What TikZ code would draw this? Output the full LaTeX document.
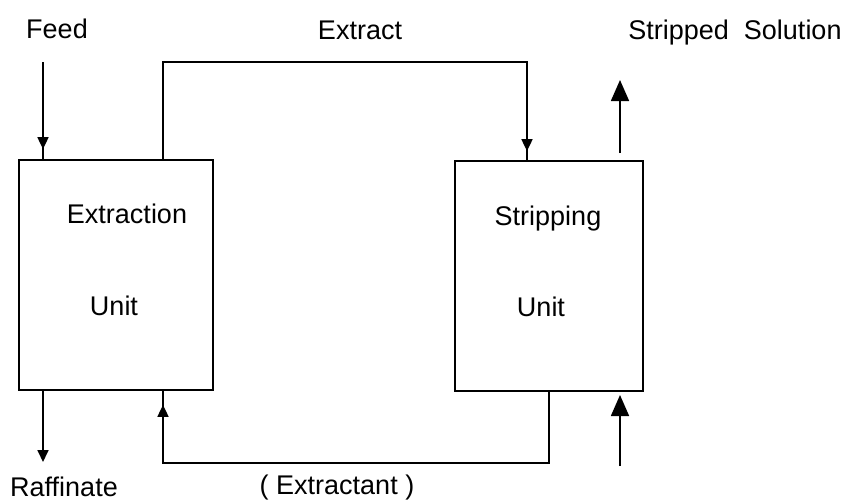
\documentclass[tikz,border=0pt]{standalone}
\usepackage{fontspec}
\setmainfont{Liberation Sans}
\usetikzlibrary{arrows.meta,decorations.markings}
\begin{document}
\begin{tikzpicture}[x=1pt,y=-1pt,
  unitbox/.style={draw, line width=1.7pt, inner sep=0pt, minimum height=230pt},
  lbl/.style={anchor=base, inner sep=0pt, font=\fontsize{27}{32}\selectfont},
  flow/.style={line width=1.7pt},
  smalltip/.style={-{Triangle[width=11pt,length=12pt]}},
  bigtip/.style={-{Triangle[width=18pt,length=21pt]}},
  tipat/.style={postaction={decorate}, decoration={markings,
      mark=at position #1 with {\arrow{Triangle[width=11pt,length=12pt]}}}}]
\useasboundingbox (0,0) rectangle (846,501);

% process units
\node[unitbox, minimum width=194pt] (ext) at (116,275) {};
\node[unitbox, minimum width=188pt] (str) at (549,276) {};

% unit labels
\node[lbl] (extA) at (127,223) {Extraction};
\node[lbl] (extB) at (114,315) {Unit};
\node[lbl] (strA) at (548,225) {Stripping};
\node[lbl] (strB) at (541,316) {Unit};

% stream labels
\node[lbl] (feed) at (57,38) {Feed};
\node[lbl] (extract) at (360,39) {Extract};
\node[lbl] (ssol) at (735,39) {Stripped\ \ Solution};
\node[lbl] (raff) at (64,496) {Raffinate};
\node[lbl] (extt) at (337,494) {( Extractant )};

% routing points
\coordinate (feedin) at (43,62);
\coordinate (tl) at (163,62);
\coordinate (tr) at (527,62);
\coordinate (br) at (549,463);
\coordinate (bl) at (163,463);
\coordinate (rafout) at (43,462);
\coordinate (solA) at (620,153);
\coordinate (solB) at (620,80);
\coordinate (stripA) at (620,466);
\coordinate (stripB) at (620,395);

% feed into extraction
\draw[flow, tipat=-10pt] (feedin) -- (ext.north -| feedin);
% extract to stripping
\draw[flow, tipat=-9pt] (ext.north -| tl) -- (tl) -- (tr) -- (str.north -| tr);
% regenerated extractant back to extraction
\draw[flow, tipat=-14pt] (str.south -| br) -- (br) -- (bl) -- (ext.south -| bl);
% raffinate out
\draw[flow, smalltip] (ext.south -| rafout) -- (rafout);
% stripping streams
\draw[flow, bigtip] (solA) -- (solB);
\draw[flow, bigtip] (stripA) -- (stripB);
\end{tikzpicture}
\end{document}
